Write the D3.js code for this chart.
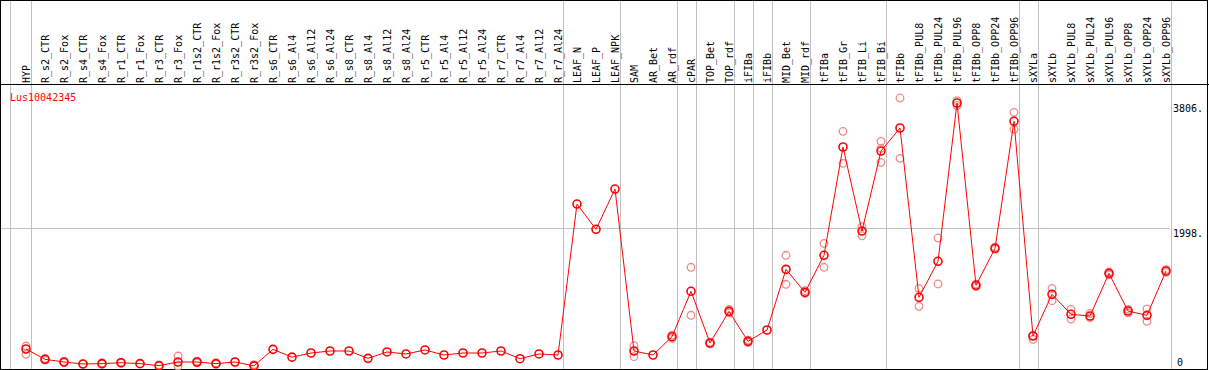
<!DOCTYPE html>
<html>
<head>
<meta charset="utf-8">
<script src="https://cdn.jsdelivr.net/npm/d3@7"></script>
<style>
  body { margin: 0; background: #fff; }
  svg { display: block; font-family: "DejaVu Sans Mono", monospace; }
</style>
</head>
<body>
<div id="chart"></div>
<script>
var geneName = "Lus10042345";

var categories = ["HYP",
  "R_s2_CTR", "R_s2_Fox", "R_s4_CTR", "R_s4_Fox", "R_r1_CTR", "R_r1_Fox", "R_r3_CTR", "R_r3_Fox",
  "R_r1s2_CTR", "R_r1s2_Fox", "R_r3s2_CTR", "R_r3s2_Fox",
  "R_s6_CTR", "R_s6_Al4", "R_s6_Al12", "R_s6_Al24", "R_s8_CTR", "R_s8_Al4", "R_s8_Al12", "R_s8_Al24",
  "R_r5_CTR", "R_r5_Al4", "R_r5_Al12", "R_r5_Al24", "R_r7_CTR", "R_r7_Al4", "R_r7_Al12", "R_r7_Al24",
  "LEAF_N", "LEAF_P", "LEAF_NPK", "SAM", "AR_Bet", "AR_rdf", "cPAR", "TOP_Bet", "TOP_rdf",
  "iFIBa", "iFIBb", "MID_Bet", "MID_rdf", "tFIBa", "tFIB_Gr", "tFIB_Li", "tFIB_Bi",
  "tFIBb", "tFIBb_PUL8", "tFIBb_PUL24", "tFIBb_PUL96", "tFIBb_OPP8", "tFIBb_OPP24", "tFIBb_OPP96",
  "sXYLa", "sXYLb", "sXYLb_PUL8", "sXYLb_PUL24", "sXYLb_PUL96", "sXYLb_OPP8", "sXYLb_OPP24", "sXYLb_OPP96"];

// mean expression per sample
var means = [246,
  97, 58, 29, 34, 48, 34, 5, 58,
  58, 34, 58, 2,
  241, 128, 188, 217, 217, 111, 203, 174,
  232, 159, 188, 188, 217, 106, 174, 159,
  2344, 1978, 2561, 217, 159, 424, 1081, 333, 791,
  357, 521, 1399, 1066, 1602, 3169, 1953, 3111,
  3444, 994, 1515, 3806, 1168, 1703, 3541,
  434, 1037, 748, 723, 1341, 796, 733, 1375];

// single replicates (light circles)
var replicates = [[289, 169],
  [110, 85], [65, 50], [29], [45, 25], [55, 40], [34], [10, 0], [145, 0],
  [70, 45], [45, 25], [58], [20, 0],
  [], [], [], [], [], [], [], [],
  [], [], [], [], [], [], [], [],
  [], [], [], [294, 135], [], [445, 400], [1428, 734], [345, 320], [820, 770],
  [375, 340], [], [1602, 1182], [1090, 1050], [1775, 1428], [3396, 2933], [2016, 1885], [3251, 3150, 2947],
  [3878, 3005], [1124, 864], [1852, 1187], [3840, 3770], [1185, 1150], [1720, 1690], [3671, 3425],
  [440, 386], [1124, 945], [820, 680], [760, 700], [1360, 1320], [820, 770], [825, 647], [1395, 1355]];

// index of the last sample in each group
var groupEnds = [0, 28, 31, 34, 35, 37, 38, 39, 41, 45, 52, 53, 60];

var yTickValues = [0, 1998, 3806];
var yTickLabels = ["0", "1998.", "3806."];

var width = 1209, height = 370;
var plotRight = 1170, headerBottom = 84.5, bottom = 369;

var svg = d3.select("#chart").append("svg")
  .attr("width", width)
  .attr("height", height);

var x = d3.scalePoint()
  .domain(categories)
  .range([26, 1166]);

var y = d3.scaleLinear()
  .domain([0, 3806])
  .range([366, 103]);

// vertical group separators
var sepX = [10].concat(groupEnds.map(function (i) { return x(categories[i]) + 4.5; }));
svg.append("g").selectAll("line")
  .data(sepX)
  .enter().append("line")
  .attr("x1", function (d) { return Math.round(d) + 0.5; })
  .attr("x2", function (d) { return Math.round(d) + 0.5; })
  .attr("y1", 0)
  .attr("y2", bottom)
  .attr("stroke", "#c0c0c0");

// horizontal mid grid line
svg.append("line")
  .attr("x1", 1)
  .attr("x2", plotRight)
  .attr("y1", Math.round(y(1998)) + 0.5)
  .attr("y2", Math.round(y(1998)) + 0.5)
  .attr("stroke", "#c0c0c0");

// frame
svg.append("rect")
  .attr("x", 0.5).attr("y", 0.5)
  .attr("width", 1207).attr("height", bottom)
  .attr("fill", "none").attr("stroke", "#000");
svg.append("line")
  .attr("x1", 0).attr("x2", width)
  .attr("y1", headerBottom).attr("y2", headerBottom)
  .attr("stroke", "#000");

// rotated sample labels
svg.append("g").selectAll("text")
  .data(categories)
  .enter().append("text")
  .attr("transform", function (d) { return "translate(" + (x(d) + 3.5) + ",83) rotate(-90)"; })
  .attr("font-size", 10)
  .attr("fill", "#000")
  .text(function (d) { return d; });

// gene name
svg.append("text")
  .attr("x", 10)
  .attr("y", 101)
  .attr("font-size", 10)
  .attr("fill", "#ff0000")
  .text(geneName);

// y tick labels on the right
svg.append("g").selectAll("text")
  .data(yTickValues)
  .enter().append("text")
  .attr("x", function (d) { return d === 0 ? 1177 : 1173; })
  .attr("y", function (d) { return d === 0 ? y(d) : y(d) + 9; })
  .attr("font-size", 10)
  .attr("fill", "#000")
  .text(function (d, i) { return yTickLabels[i]; });

// replicate circles
var repPoints = [];
replicates.forEach(function (r, i) {
  r.forEach(function (v) { repPoints.push({ cat: categories[i], val: v }); });
});
svg.append("g").selectAll("circle")
  .data(repPoints)
  .enter().append("circle")
  .attr("cx", function (d) { return x(d.cat); })
  .attr("cy", function (d) { return y(d.val); })
  .attr("r", 3.8)
  .attr("fill", "none")
  .attr("stroke", "#f08a8a")
  .attr("stroke-width", 1.3);

// mean line
var line = d3.line()
  .x(function (d, i) { return x(categories[i]); })
  .y(function (d) { return y(d); });
svg.append("path")
  .datum(means)
  .attr("d", line)
  .attr("fill", "none")
  .attr("stroke", "#ff0000")
  .attr("stroke-width", 1);

// mean circles
svg.append("g").selectAll("circle")
  .data(means)
  .enter().append("circle")
  .attr("cx", function (d, i) { return x(categories[i]); })
  .attr("cy", function (d) { return y(d); })
  .attr("r", 4)
  .attr("fill", "none")
  .attr("stroke", "#ff0000")
  .attr("stroke-width", 1.6);
</script>
</body>
</html>
